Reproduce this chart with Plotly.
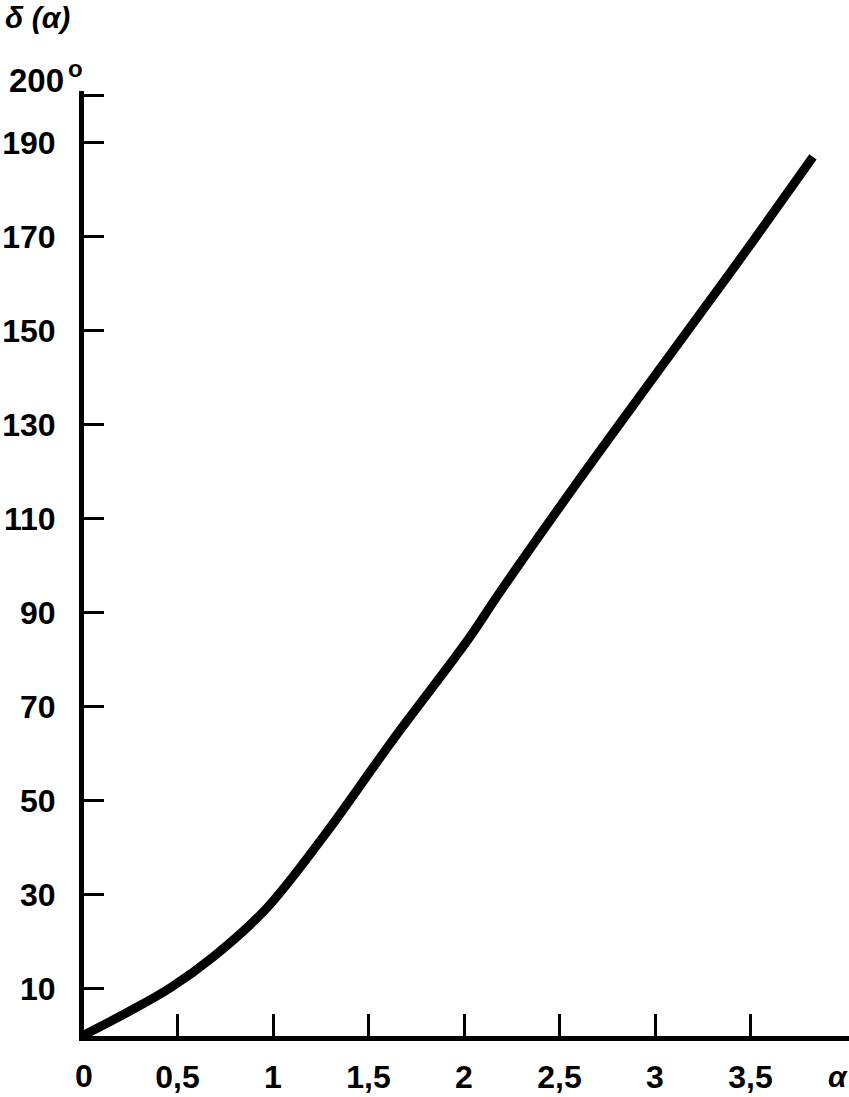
import plotly.graph_objects as go

# Curve
alpha = [0.0, 0.241, 0.461, 0.686, 0.958, 1.262, 1.628, 2.021, 2.178, 2.592, 2.984, 3.393, 3.827]
delta = [0.0, 5.1, 10.2, 16.8, 26.8, 42.3, 63.0, 84.3, 93.8, 117.7, 139.6, 162.3, 187.0]

x_tickvals = [0.5, 1, 1.5, 2, 2.5, 3, 3.5]
x_ticktext = ["0,5", "1", "1,5", "2", "2,5", "3", "3,5"]
x_origin_label = "0"
y_tickvals = [10, 30, 50, 70, 90, 110, 130, 150, 170, 190, 200]
y_ticktext = ["10", "30", "50", "70", "90", "110", "130", "150", "170", "190", ""]

W, H = 849, 1097
L, R, T, B = 84, 0, 91, 61
SX = 191.0
X0 = (L - 82) / SX

fig = go.Figure()
fig.add_trace(go.Scatter(
    x=alpha, y=delta, mode="lines",
    line=dict(color="black", width=9, shape="spline", smoothing=1.0),
    hoverinfo="skip", showlegend=False,
))

tickfont = dict(family="Liberation Sans", size=32, color="black", weight="bold")

fig.update_layout(
    width=W, height=H,
    margin=dict(l=L, r=R, t=T, b=B, pad=0),
    paper_bgcolor="white", plot_bgcolor="white",
    showlegend=False,
    xaxis=dict(
        range=[X0, X0 + (W - L - R) / SX],
        tickvals=x_tickvals, ticktext=x_ticktext,
        ticks="inside", ticklen=22, tickwidth=3, tickcolor="black",
        showline=True, linecolor="black", linewidth=5,
        showgrid=False, zeroline=False,
        tickfont=tickfont, ticklabelstandoff=9,
    ),
    yaxis=dict(
        range=[0, 201],
        tickvals=y_tickvals, ticktext=y_ticktext,
        ticks="inside", ticklen=20, tickwidth=3, tickcolor="black",
        showline=True, linecolor="black", linewidth=5,
        showgrid=False, zeroline=False,
        tickfont=tickfont, ticklabelstandoff=17,
    ),
)

PW = W - L - R
PH = H - T - B

def px(xp):
    return (xp - L) / PW

def py(yp):
    return (H - B - yp) / PH

annots = [
    dict(text="<i>δ (α)</i>", x=px(3), y=py(18), xanchor="left", yanchor="middle",
         font=dict(family="Liberation Sans", size=30, color="black", weight="bold")),
    dict(text="200", x=px(66), y=py(81), xanchor="right", yanchor="middle",
         font=dict(family="Liberation Sans", size=33, color="black", weight="bold")),
    dict(text="o", x=px(75), y=py(68), xanchor="center", yanchor="middle",
         font=dict(family="Liberation Sans", size=24, color="black", weight="bold")),
    dict(text=x_origin_label, x=px(84), y=py(1076), xanchor="center", yanchor="middle",
         font=tickfont),
    dict(text="<i>α</i>", x=px(838), y=py(1076), xanchor="center", yanchor="middle",
         font=dict(family="Liberation Sans", size=30, color="black", weight="bold")),
]
for a in annots:
    a.update(xref="paper", yref="paper", showarrow=False)
fig.update_layout(annotations=annots)

fig.write_html(
    "out.html",
    config={"displayModeBar": False},
    post_script="document.body.style.margin='0';document.body.style.overflow='hidden';",
)
